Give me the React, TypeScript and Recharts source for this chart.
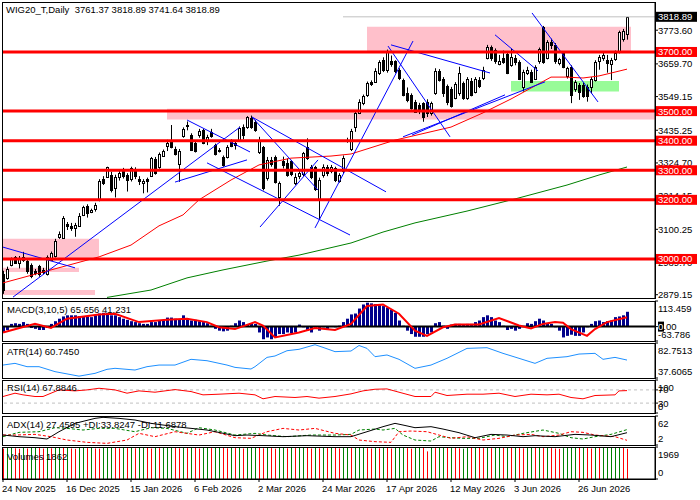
import React from "react";
import {
  ComposedChart,
  Bar,
  Line,
  XAxis,
  YAxis,
  ReferenceLine,
  ReferenceArea,
} from "recharts";

const FONT = "'Liberation Sans', Arial, sans-serif";
const FS = 9.5;
const AXIS_W = 45;
const X_DOMAIN: [number, number] = [-0.25, 163];

// daily candles: [open, high, low, close]
const candles: [number, number, number, number][] = [
  [2950, 2960, 2882, 2895], [2935, 2974, 2930, 2966], [2978, 3005, 2975, 3002], [3005, 3010, 2985, 2988],
  [2988, 3010, 2968, 3002], [2995, 3024, 2990, 3008], [2993, 2998, 2950, 2958], [2978, 2985, 2935, 2943],
  [2960, 2966, 2945, 2952], [2975, 2980, 2940, 2948], [2963, 2970, 2948, 2956], [2950, 3012, 2944, 3008],
  [2998, 3025, 2995, 3021], [3010, 3068, 3005, 3061], [3074, 3093, 3068, 3083], [3072, 3145, 3068, 3138],
  [3118, 3125, 3098, 3110], [3112, 3122, 3095, 3105], [3105, 3122, 3075, 3115], [3112, 3155, 3110, 3146],
  [3149, 3180, 3145, 3175], [3180, 3185, 3140, 3155], [3160, 3170, 3155, 3165], [3168, 3190, 3160, 3183],
  [3202, 3270, 3195, 3265], [3272, 3280, 3250, 3256], [3278, 3312, 3275, 3310], [3284, 3295, 3225, 3233],
  [3239, 3285, 3208, 3276], [3278, 3300, 3265, 3290], [3303, 3308, 3272, 3280], [3283, 3290, 3228, 3267],
  [3270, 3312, 3262, 3306], [3297, 3310, 3270, 3281], [3270, 3280, 3250, 3265], [3258, 3270, 3222, 3265],
  [3270, 3275, 3225, 3262], [3282, 3345, 3278, 3341], [3337, 3345, 3285, 3292], [3312, 3360, 3305, 3355],
  [3348, 3370, 3345, 3366], [3383, 3403, 3365, 3392], [3402, 3453, 3374, 3378], [3371, 3380, 3350, 3355],
  [3321, 3372, 3261, 3366], [3416, 3445, 3410, 3439], [3448, 3465, 3435, 3454], [3419, 3425, 3365, 3369],
  [3392, 3400, 3360, 3366], [3418, 3440, 3410, 3433], [3436, 3440, 3388, 3391], [3403, 3420, 3385, 3412],
  [3431, 3440, 3410, 3416], [3385, 3390, 3350, 3355], [3368, 3375, 3360, 3370], [3344, 3350, 3312, 3318],
  [3346, 3385, 3340, 3378], [3400, 3405, 3378, 3382], [3392, 3400, 3370, 3385], [3402, 3448, 3398, 3442],
  [3447, 3455, 3405, 3419], [3447, 3483, 3440, 3479], [3476, 3485, 3440, 3446], [3464, 3470, 3430, 3436],
  [3362, 3413, 3355, 3402], [3378, 3382, 3232, 3239], [3273, 3345, 3265, 3335], [3335, 3345, 3312, 3321],
  [3346, 3350, 3255, 3261], [3210, 3262, 3180, 3258], [3330, 3346, 3306, 3318], [3326, 3340, 3278, 3284],
  [3330, 3335, 3280, 3288], [3258, 3290, 3250, 3276], [3280, 3300, 3270, 3290], [3288, 3362, 3280, 3357],
  [3378, 3408, 3335, 3341], [3312, 3318, 3270, 3276], [3310, 3315, 3230, 3236], [3200, 3275, 3132, 3267],
  [3284, 3320, 3275, 3312], [3310, 3318, 3280, 3290], [3298, 3318, 3290, 3310], [3306, 3312, 3260, 3267],
  [3265, 3290, 3258, 3284], [3299, 3350, 3290, 3343], [3403, 3410, 3393, 3400], [3372, 3440, 3365, 3432],
  [3445, 3500, 3430, 3495], [3495, 3540, 3490, 3532], [3528, 3556, 3520, 3550], [3555, 3600, 3548, 3594],
  [3598, 3604, 3585, 3592], [3600, 3645, 3595, 3637], [3630, 3672, 3622, 3667], [3673, 3682, 3632, 3640],
  [3638, 3708, 3630, 3700], [3668, 3688, 3650, 3660], [3668, 3672, 3628, 3634], [3639, 3645, 3605, 3611],
  [3605, 3610, 3550, 3555], [3560, 3580, 3530, 3538], [3555, 3560, 3505, 3510], [3532, 3538, 3495, 3498],
  [3521, 3528, 3490, 3504], [3526, 3530, 3464, 3481], [3532, 3540, 3480, 3493], [3495, 3532, 3485, 3528],
  [3560, 3645, 3555, 3634], [3636, 3642, 3600, 3605], [3610, 3615, 3548, 3560], [3585, 3590, 3520, 3530],
  [3575, 3582, 3512, 3518], [3545, 3598, 3540, 3592], [3560, 3650, 3552, 3630], [3594, 3600, 3538, 3543],
  [3545, 3615, 3538, 3608], [3602, 3612, 3550, 3556], [3566, 3615, 3560, 3608], [3605, 3615, 3578, 3585],
  [3612, 3650, 3605, 3640], [3680, 3724, 3675, 3718], [3718, 3722, 3670, 3678], [3706, 3712, 3660, 3668],
  [3660, 3690, 3655, 3669], [3680, 3705, 3660, 3665], [3694, 3700, 3625, 3630], [3656, 3712, 3650, 3684],
  [3680, 3690, 3655, 3665], [3665, 3672, 3605, 3610], [3580, 3640, 3566, 3632], [3630, 3650, 3622, 3640],
  [3632, 3640, 3595, 3600], [3610, 3655, 3605, 3648], [3668, 3715, 3660, 3710], [3785, 3788, 3660, 3667],
  [3680, 3740, 3675, 3733], [3735, 3745, 3710, 3724], [3724, 3730, 3660, 3668], [3662, 3680, 3655, 3675],
  [3696, 3702, 3645, 3650], [3618, 3650, 3610, 3645], [3648, 3655, 3527, 3556], [3575, 3605, 3565, 3600],
  [3588, 3595, 3538, 3566], [3590, 3596, 3545, 3550], [3580, 3590, 3532, 3550], [3580, 3615, 3560, 3610],
  [3606, 3672, 3600, 3667], [3671, 3690, 3640, 3682], [3679, 3700, 3670, 3690], [3673, 3690, 3630, 3662],
  [3660, 3680, 3605, 3673], [3676, 3705, 3670, 3696], [3701, 3772, 3695, 3769], [3745, 3778, 3735, 3770],
  [3761.37, 3818.89, 3741.64, 3818.89],
];

const lastPrice = 3818.89;
const dateTicks = [0, 16, 32, 48, 64, 80, 96, 112, 128, 144];
const dateLabels = [
  "24 Nov 2025", "16 Dec 2025", "15 Jan 2026", "6 Feb 2026", "2 Mar 2026",
  "24 Mar 2026", "17 Apr 2026", "12 May 2026", "3 Jun 2026", "26 Jun 2026",
];
const priceTicks = [3773.6, 3659.7, 3549.15, 3435.25, 3324.7, 3214.15, 3100.25, 2989.7, 2879.15];
const levels = [3700, 3500, 3400, 3300, 3200, 3000];

// rectangles: [fromBar, toBar, lowPrice, highPrice]
const pinkZones = [
  [91, 157, 3700, 3785],
  [41, 163, 3472, 3508],
  [-0.25, 24, 3003, 3068],
  [-0.25, 19, 2956, 2970],
  [-0.25, 23, 2878, 2895],
];
const greenZones = [[127, 154, 3566, 3602]];

// trend lines: [bar1, price1, bar2, price2]
const trendLines = [
  [0, 3040, 18, 2970],
  [2.5, 2871, 59.25, 3446],
  [43, 3260, 61, 3335],
  [46, 3470, 61.75, 3362],
  [62.25, 3480, 95.75, 3227],
  [51, 3325, 86.75, 3081],
  [62.25, 3480, 78.75, 3233],
  [64.25, 3108, 78.75, 3335],
  [78, 3105, 102.5, 3737],
  [96.25, 3720, 111.75, 3413],
  [97, 3724, 121.75, 3629],
  [100, 3413, 135.5, 3599],
  [102.25, 3419, 125.5, 3555],
  [123, 3758, 133.75, 3636],
  [132.25, 3832, 148.75, 3531],
];

// moving averages read at sample bars: [bar, value]
const redMA = [
  [0, 2919], [12, 2963], [24, 3007], [32, 3047], [39, 3112], [45, 3149], [49, 3200], [57, 3267],
  [64, 3318], [72, 3341], [82, 3348], [87, 3355], [98, 3402], [112, 3446], [120, 3494], [127, 3541],
  [137, 3615], [141, 3615], [145, 3612], [149, 3619], [153, 3632], [156, 3642],
];
const greenMA = [
  [26, 2870], [37, 2895], [46, 2936], [55, 2963], [66, 2993], [74, 3013], [87, 3054], [95, 3091],
  [103, 3122], [116, 3162], [128, 3203], [141, 3250], [149, 3284], [156, 3311],
];

const macdHist = [
  -26, -15, 12, 15, 12, 20, 12, -6, -10, -15, -15, -6, 12, 24, 35, 45, 50, 50, 50, 47,
  47, 45, 42, 50, 58, 61, 61, 50, 50, 42, 35, 30, 24, 20, 15, 12, 12, 20, 20, 27,
  30, 40, 40, 35, 30, 50, 35, 27, 30, 24, 20, 15, 4, -10, -18, -21, -18, 4, 15, 27,
  20, 9, 15, 12, -26, -56, -48, -56, -48, -33, -33, -26, -30, -26, 9, -3, -18, -26, -6, -18,
  -3, -15, 0, -3, 4, 20, 35, 54, 58, 80, 98, 106, 103, 100, 95, 91, 85, 75, 61, 27,
  4, -18, -33, -45, -45, -45, -33, -26, 15, 20, 4, -10, 9, 12, 12, 9, 12, 12, 20, 27,
  42, 50, 42, 27, 20, 4, -15, -10, -18, -10, 0, 15, 12, 24, 35, 27, 15, 12, -3, -18,
  -48, -41, -36, -41, -41, -26, -3, 12, 24, 27, 20, 24, 27, 42, 45, 50, 65.656,
];
const macdSignal = [
  [0, -26], [8, 12], [12, -6], [16, 35], [24, 54], [28, 57], [34, 20], [41, 30], [46, 35], [51, 20],
  [54, -3], [58, -11], [63, 20], [65, 5], [68, -48], [74, -26], [78, -6], [83, -15], [87, 12], [91, 91],
  [95, 98], [99, 57], [103, -18], [106, -41], [110, -3], [113, 9], [119, 9], [124, 38], [129, 5],
  [132, -8], [135, 12], [138, 20], [140, 17], [142, -11], [146, -41], [148, -11], [151, 20], [156, 41.231],
];
const atr = [
  [0, 54.3], [3, 56.5], [6, 52.2], [9, 52.2], [13, 45.8], [19, 40], [23, 43.6], [26, 48.8], [28, 50.1],
  [33, 47.9], [36, 52.2], [39, 54.3], [43, 54.3], [47, 61.7], [51, 59.9], [56, 54.3], [58, 51.3],
  [62, 49.2], [63, 52.2], [66, 64.2], [68, 66], [71, 72.8], [74, 74.6], [78, 80.5], [80, 77.1],
  [83, 71.6], [87, 72.4], [89, 79.5], [91, 75.8], [93, 65.1], [96, 67.3], [99, 61.7], [103, 50.1],
  [107, 54.3], [111, 63], [116, 75.8], [121, 76.7], [125, 69.4], [129, 63], [133, 56.5], [136, 63],
  [141, 65.1], [144, 68.5], [148, 69.4], [150, 61.7], [153, 64.2], [156, 60.745],
];
const rsi = [
  [0, 50], [3, 60], [5, 55], [8, 50], [10, 50], [12, 60], [14, 70], [18, 67], [21, 70], [24, 75],
  [28, 70], [31, 60], [34, 67], [38, 63], [43, 71], [47, 65], [50, 55], [54, 57], [59, 60], [63, 55],
  [65, 43], [68, 50], [73, 47], [76, 50], [79, 45], [83, 50], [87, 58], [90, 67], [93, 72], [96, 73],
  [99, 63], [103, 50], [107, 50], [108, 63], [111, 53], [116, 57], [120, 57], [124, 60], [128, 50],
  [132, 57], [136, 55], [139, 57], [142, 47], [145, 43], [148, 53], [153, 55], [154, 67], [156, 67.8846],
];
const adx = [
  [0, 22.6], [4, 19.2], [8, 17.1], [11, 14.4], [14, 29.5], [18, 46.8], [23, 57.1], [25, 59.2],
  [29, 57.1], [33, 53.7], [37, 46.8], [43, 39.9], [51, 33], [58, 21.3], [61, 22.6], [65, 21.3],
  [70, 19.2], [76, 21.3], [83, 19.2], [87, 19.2], [91, 29.5], [95, 39.9], [98, 46.8], [100, 43.3],
  [103, 37.8], [107, 39.9], [110, 35], [114, 27.5], [118, 17.1], [122, 24], [126, 22.6], [130, 19.2],
  [133, 21.3], [138, 19.2], [143, 24], [147, 22.6], [152, 19.2], [156, 27.4595],
];
const plusDI = [
  [0, 19.2], [4, 28.2], [9, 29.5], [13, 37.8], [16, 36.4], [20, 33], [24, 36.4], [28, 36.4],
  [33, 29.5], [37, 37.8], [41, 36.4], [46, 26.1], [49, 37.8], [53, 33], [58, 22.6], [63, 26.1],
  [66, 22.6], [71, 19.2], [77, 22.6], [83, 22.6], [87, 24], [89, 33], [93, 35], [95, 33], [98, 36.4],
  [100, 22.6], [103, 12.3], [107, 10.2], [109, 19.2], [112, 17.1], [115, 15.8], [119, 15.8],
  [123, 22.6], [126, 19.2], [130, 26.1], [135, 33], [139, 26.1], [142, 17.1], [145, 14.4],
  [148, 19.2], [152, 24], [156, 33.8247],
];
const minusDI = [
  [0, 22.6], [3, 22.6], [8, 24], [12, 19.2], [16, 12.3], [21, 7.5], [26, 5.4], [31, 12.3],
  [34, 26.1], [38, 19.2], [43, 29.5], [49, 22.6], [53, 29.5], [58, 17.1], [62, 15.8], [66, 29.5],
  [70, 36.4], [74, 33], [78, 36.4], [83, 26.1], [87, 22.6], [89, 12.3], [93, 8.9], [97, 7.5],
  [99, 29.5], [102, 30.9], [106, 29.5], [109, 22.6], [112, 15.8], [116, 19.2], [120, 12.3],
  [124, 15.8], [128, 22.6], [132, 24], [135, 19.2], [139, 22.6], [142, 29.5], [145, 28.2],
  [148, 22.6], [153, 19.2], [156, 11.6878],
];
const volumes = [
  1870, 1905, 1932, 1890, 1862, 1915, 1880, 1940, 1955, 1900,
  1875, 1920, 1890, 1935, 1950, 1910, 1935, 1880, 1860, 1925,
  1940, 1900, 1930, 1880, 1870, 1935, 1950, 1960, 1915, 1890,
  1930, 1900, 1935, 1890, 1925, 1945, 1910, 1880, 1920, 1895,
  1930, 1945, 1955, 1905, 1890, 1925, 1900, 1930, 1910, 1880,
  1920, 1940, 1900, 1925, 1945, 1910, 1890, 1935, 1900, 1930,
  1880, 1920, 1940, 1955, 1915, 1890, 1935, 1900, 1870, 1920,
  1935, 1890, 1930, 1900, 1935, 1950, 1910, 1880, 1925, 1890,
  1930, 1900, 1935, 1910, 1885, 1920, 1945, 1900, 1935, 1955,
  1930, 1900, 1880, 1925, 1890, 1930, 1910, 1880, 1920, 1950,
  1935, 1900, 1870, 1925, 1950, 1905, 1700, 1930, 1900, 1935,
  1920, 1940, 1900, 1935, 1890, 1870, 1925, 1950, 1910, 1935,
  1900, 1930, 1895, 1925, 1950, 1910, 1940, 1905, 1935, 1900,
  1890, 1930, 1955, 1915, 1940, 1905, 1930, 1900, 1880, 1860,
  1900, 1930, 1945, 1960, 1925, 1945, 1900, 1880, 1925, 1900,
  1930, 1945, 1955, 1960, 1969, 1930, 1862,
];
// g = volume up, r = volume down
const volColors =
  "rggrrgrggr" + "rgrggrgrrg" + "grgrrgggrr" + "grgrggrrgr" + "gggrrgrgrr" +
  "ggrggrrgrg" + "rgggrrgrrg" + "grgrggrrgr" + "grgrrggrgg" + "grrgrgrrgg" +
  "grrggrrgrg" + "grgrrggrgr" + "rgrggrgrgr" + "rggrgrgrrr" + "ggggrgrrgr" + "gggggrr";

const rows: Record<string, any>[] = candles.map(([o, h, l, c], i) => ({
  i, o, h, l, c,
  hl: [l, h],
  macd: macdHist[i],
  vol: volumes[i],
  up: volColors[i] === "g",
}));
const put = (key: string, pts: number[][]) => pts.forEach(([i, v]) => (rows[i][key] = v));
put("maRed", redMA);
put("maGreen", greenMA);
put("signal", macdSignal);
put("atr", atr);
put("rsi", rsi);
put("adx", adx);
put("pdi", plusDI);
put("mdi", minusDI);

const Candle = (props: any) => {
  const { x, y, width, height, payload } = props;
  const { o, h, l, c } = payload;
  const px = Math.round(x + width / 2);
  const span = h - l || 1;
  const py = (v: number) => y + ((h - v) / span) * height;
  const top = Math.round(py(Math.max(o, c)));
  const bot = Math.round(py(Math.min(o, c)));
  return (
    <g>
      <line x1={px + 0.5} x2={px + 0.5} y1={y} y2={y + height} stroke="#000" />
      <rect x={px - 0.5} y={top + 0.5} width={2} height={Math.max(bot - top, 1)}
        fill={c >= o ? "#fff" : "#000"} stroke="#000" />
    </g>
  );
};

const HistBar = (props: any) => {
  const { x, y, width, height } = props;
  const px = Math.round(x + width / 2);
  const top = Math.min(y, y + height);
  return <rect x={px - 1} y={top} width={3} height={Math.abs(height)} fill="#00008b" />;
};

const VolBar = (props: any) => {
  const { x, y, width, height, payload } = props;
  const px = Math.round(x + width / 2) + 0.5;
  return <line x1={px} x2={px} y1={y} y2={y + height} stroke={payload.up ? "#008000" : "#ff0000"} />;
};

const AxisTick = (props: any) => {
  const { x, y, payload, fmt, shift } = props;
  const v = payload.value;
  const dy = shift?.[String(v)] ?? 0;
  return (
    <text x={x} y={y + dy + 3.5} fontSize={FS} fontFamily={FONT} fill="#000">{fmt(v)}</text>
  );
};

// price scale: plain ticks, red tags for the horizontal levels, black tag for the last price
const PriceTick = (props: any) => {
  const { x, y, payload } = props;
  const v = payload.value;
  const isLevel = levels.includes(v);
  if (isLevel || v === lastPrice) {
    return (
      <g>
        <rect x={x - 2} y={y - 5} width={41} height={10} fill={isLevel ? "#ff0000" : "#000"} />
        <text x={x} y={y + 3.5} fontSize={FS} fontFamily={FONT} fill="#fff">{v.toFixed(2)}</text>
      </g>
    );
  }
  return <text x={x} y={y + 3.5} fontSize={FS} fontFamily={FONT} fill="#000">{v.toFixed(2)}</text>;
};

const ZeroTick = (props: any) => {
  const { x, y, payload } = props;
  const v = payload.value;
  if (v === 0) {
    return (
      <g>
        <rect x={x} y={y - 5} width={6} height={10} fill="#000" />
        <text x={x} y={y + 3.5} fontSize={FS} fontFamily={FONT}>
          <tspan fill="#fff">0</tspan><tspan fill="#000">.00</tspan>
        </text>
      </g>
    );
  }
  const dy = v > 0 ? 7 : -7;
  return <text x={x} y={y + dy + 3.5} fontSize={FS} fontFamily={FONT} fill="#000">{v.toFixed(3)}</text>;
};

const DateTick = (props: any) => {
  const { x, y, payload } = props;
  const k = dateTicks.indexOf(payload.value);
  return (
    <text x={x - 1} y={y + 8} fontSize={FS} fontFamily={FONT} fill="#000">{dateLabels[k]}</text>
  );
};

const Caption = ({ x, y, children }: any) => (
  <div style={{ position: "absolute", left: x, top: y, fontFamily: FONT, fontSize: FS, lineHeight: "11px", whiteSpace: "pre", color: "#000", pointerEvents: "none" }}>
    {children}
  </div>
);

const Frame = ({ top, height }: any) => (
  <div style={{ position: "absolute", left: 2, top, width: 654, height, border: "1px solid #000", boxSizing: "border-box", pointerEvents: "none" }} />
);

const panelProps = (height: number) => ({
  width: 700,
  height,
  data: rows,
  margin: { top: 0, right: 0, bottom: 0, left: 2 },
});

const xHidden = <XAxis dataKey="i" type="number" domain={X_DOMAIN} hide allowDataOverflow />;

const yRight = (domain: [number, number], ticks: number[], tick: any) => (
  <YAxis orientation="right" width={AXIS_W} domain={domain} ticks={ticks} interval={0}
    allowDataOverflow tickSize={3} tickMargin={0} tick={tick}
    axisLine={{ stroke: "#000" }} tickLine={{ stroke: "#000" }} />
);

export default function App() {
  return (
    <div style={{ position: "absolute", left: 0, top: 0, width: 700, height: 500, background: "#fff", overflow: "hidden" }}>
      <style>{".recharts-surface{overflow:visible}"}</style>

      <div style={{ position: "absolute", left: 0, top: 2 }}>
        <ComposedChart {...panelProps(296)}>
          {xHidden}
          {yRight([2868, 3869], [...priceTicks, ...levels, lastPrice], <PriceTick />)}
          {pinkZones.map(([a, b, lo, hi], k) => (
            <ReferenceArea key={"p" + k} x1={a} x2={b} y1={lo} y2={hi} fill="#ffc0cb" fillOpacity={1} stroke="none" ifOverflow="visible" />
          ))}
          {greenZones.map(([a, b, lo, hi], k) => (
            <ReferenceArea key={"g" + k} x1={a} x2={b} y1={lo} y2={hi} fill="#98fb98" fillOpacity={1} stroke="none" ifOverflow="visible" />
          ))}
          <ReferenceLine segment={[{ x: 85, y: lastPrice }, { x: 163, y: lastPrice }]} stroke="#c0c0c0" ifOverflow="visible" />
          <Bar dataKey="hl" shape={<Candle />} isAnimationActive={false} />
          <Line dataKey="maRed" stroke="#ff0000" strokeWidth={1} dot={false} connectNulls isAnimationActive={false} />
          <Line dataKey="maGreen" stroke="#008000" strokeWidth={1} dot={false} connectNulls isAnimationActive={false} />
          {trendLines.map(([a, p, b, q], k) => (
            <ReferenceLine key={"t" + k} segment={[{ x: a, y: p }, { x: b, y: q }]} stroke="#0000ff" ifOverflow="visible" />
          ))}
          {levels.map((lv) => (
            <ReferenceLine key={lv} y={lv} stroke="#ff0000" strokeWidth={3} />
          ))}
        </ComposedChart>
      </div>

      <div style={{ position: "absolute", left: 0, top: 301 }}>
        <ComposedChart {...panelProps(40)}>
          {xHidden}
          {yRight([-63.786, 113.459], [113.459, 0, -63.786], <ZeroTick />)}
          <Bar dataKey="macd" shape={<HistBar />} isAnimationActive={false} />
          <ReferenceLine y={0} stroke="#000" strokeWidth={2} />
          <Line dataKey="signal" stroke="#ff0000" strokeWidth={2} dot={false} connectNulls isAnimationActive={false} />
        </ComposedChart>
      </div>

      <div style={{ position: "absolute", left: 0, top: 343 }}>
        <ComposedChart {...panelProps(35)}>
          {xHidden}
          {yRight([37.6065, 82.7513], [82.7513, 37.6065],
            <AxisTick fmt={(v: number) => v.toFixed(4)} shift={{ "82.7513": 7, "37.6065": -7 }} />)}
          <Line dataKey="atr" stroke="#1e90ff" strokeWidth={1} dot={false} connectNulls isAnimationActive={false} />
        </ComposedChart>
      </div>

      <div style={{ position: "absolute", left: 0, top: 380 }}>
        <ComposedChart {...panelProps(33)}>
          {xHidden}
          {yRight([0, 100], [100, 70, 30, 0],
            <AxisTick fmt={(v: number) => String(v)} shift={{ "100": 7, "0": -7 }} />)}
          <ReferenceLine y={70} stroke="#c0c0c0" strokeDasharray="3 3" />
          <ReferenceLine y={30} stroke="#c0c0c0" strokeDasharray="3 3" />
          <Line dataKey="rsi" stroke="#ff0000" strokeWidth={1} dot={false} connectNulls isAnimationActive={false} />
        </ComposedChart>
      </div>

      <div style={{ position: "absolute", left: 0, top: 416 }}>
        <ComposedChart {...panelProps(29)}>
          {xHidden}
          {yRight([2, 62], [62, 2], <AxisTick fmt={(v: number) => String(v)} shift={{ "62": 7, "2": -7 }} />)}
          <Line dataKey="pdi" stroke="#008000" strokeWidth={1} strokeDasharray="3 2" dot={false} connectNulls isAnimationActive={false} />
          <Line dataKey="mdi" stroke="#ff0000" strokeWidth={1} strokeDasharray="3 2" dot={false} connectNulls isAnimationActive={false} />
          <Line dataKey="adx" stroke="#000" strokeWidth={1} dot={false} connectNulls isAnimationActive={false} />
        </ComposedChart>
      </div>

      <div style={{ position: "absolute", left: 0, top: 447 }}>
        <ComposedChart {...panelProps(52)}>
          <XAxis dataKey="i" type="number" domain={X_DOMAIN} ticks={dateTicks} interval={0}
            allowDataOverflow height={20} tickSize={3} tick={<DateTick />}
            axisLine={{ stroke: "#000" }} tickLine={{ stroke: "#000" }} />
          {yRight([0, 1969], [1969, 0], <AxisTick fmt={(v: number) => String(v)} shift={{ "1969": 7, "0": -7 }} />)}
          <Bar dataKey="vol" shape={<VolBar />} isAnimationActive={false} />
        </ComposedChart>
      </div>

      <Frame top={2} height={297} />
      <Frame top={301} height={41} />
      <Frame top={343} height={36} />
      <Frame top={380} height={34} />
      <Frame top={416} height={30} />
      <Frame top={447} height={33} />

      <Caption x={6} y={4}>{"WIG20_T,Daily  3761.37 3818.89 3741.64 3818.89"}</Caption>
      <Caption x={7} y={304}>{"MACD(3,10,5) 65.656 41.231"}</Caption>
      <Caption x={7} y={346}>{"ATR(14) 60.7450"}</Caption>
      <Caption x={7} y={382}>{"RSI(14) 67.8846"}</Caption>
      <Caption x={7} y={419}>{"ADX(14) 27.4595 +DI:33.8247 -DI:11.6878"}</Caption>
      <Caption x={7} y={451}>{"Volumes 1862"}</Caption>
    </div>
  );
}
